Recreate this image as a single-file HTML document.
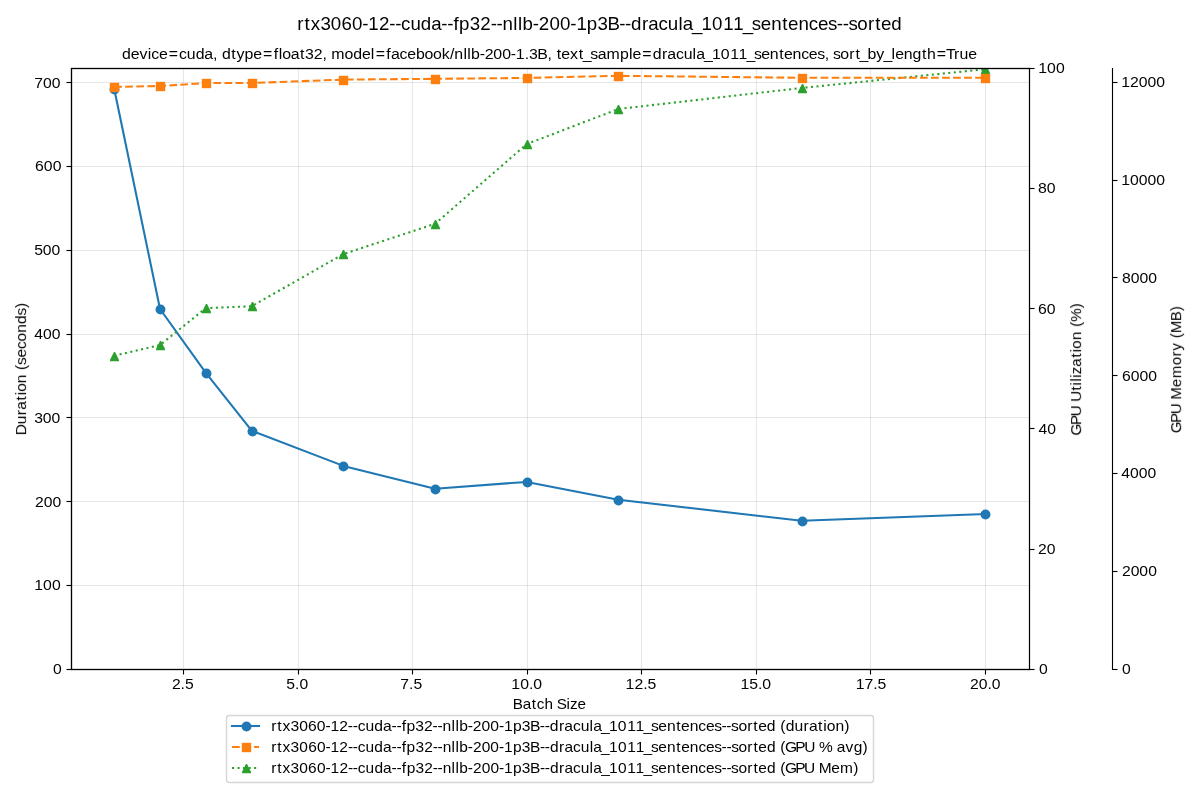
<!DOCTYPE html>
<html lang="en">
<head>
<meta charset="utf-8">
<title>rtx3060-12--cuda--fp32--nllb-200-1p3B--dracula_1011_sentences--sorted</title>
<style>
html,body{margin:0;padding:0;background:#ffffff;}
body{width:1200px;height:800px;overflow:hidden;}
svg{display:block;}
svg text{font-family:"Liberation Sans",sans-serif;fill:#000000;}
</style>
</head>
<body>
<svg width="1200" height="800" viewBox="0 0 1200 800">
<rect x="0" y="0" width="1200" height="800" fill="#ffffff"/>
<defs><clipPath id="axclip"><rect x="71.00" y="68.00" width="958.00" height="601.00"/></clipPath></defs>
<g stroke="#b0b0b0" stroke-opacity="0.3" stroke-width="1.11">
<line x1="183.5" y1="67.75" x2="183.5" y2="668.75"/>
<line x1="298.5" y1="67.75" x2="298.5" y2="668.75"/>
<line x1="412.5" y1="67.75" x2="412.5" y2="668.75"/>
<line x1="527.5" y1="67.75" x2="527.5" y2="668.75"/>
<line x1="641.5" y1="67.75" x2="641.5" y2="668.75"/>
<line x1="756.5" y1="67.75" x2="756.5" y2="668.75"/>
<line x1="870.5" y1="67.75" x2="870.5" y2="668.75"/>
<line x1="985.5" y1="67.75" x2="985.5" y2="668.75"/>
<line x1="70.65" y1="669.5" x2="1028.55" y2="669.5"/>
<line x1="70.65" y1="585.5" x2="1028.55" y2="585.5"/>
<line x1="70.65" y1="501.5" x2="1028.55" y2="501.5"/>
<line x1="70.65" y1="417.5" x2="1028.55" y2="417.5"/>
<line x1="70.65" y1="334.5" x2="1028.55" y2="334.5"/>
<line x1="70.65" y1="250.5" x2="1028.55" y2="250.5"/>
<line x1="70.65" y1="166.5" x2="1028.55" y2="166.5"/>
<line x1="70.65" y1="82.5" x2="1028.55" y2="82.5"/>
</g>
<g clip-path="url(#axclip)">
<polyline fill="none" stroke="#1f77b4" stroke-width="2.083" stroke-linejoin="round" stroke-linecap="square" points="114.19,88.71 160.02,309.00 205.86,372.90 251.69,430.68 343.35,465.90 435.02,488.71 526.68,481.92 618.35,499.69 801.68,520.83 985.01,514.03"/>
<circle cx="114.5" cy="89.5" r="4.95" fill="#1f77b4"/>
<circle cx="160.5" cy="309.5" r="4.95" fill="#1f77b4"/>
<circle cx="206.5" cy="373.5" r="4.95" fill="#1f77b4"/>
<circle cx="252.5" cy="431.5" r="4.95" fill="#1f77b4"/>
<circle cx="343.5" cy="466.5" r="4.95" fill="#1f77b4"/>
<circle cx="435.5" cy="489.5" r="4.95" fill="#1f77b4"/>
<circle cx="527.5" cy="482.5" r="4.95" fill="#1f77b4"/>
<circle cx="618.5" cy="500.5" r="4.95" fill="#1f77b4"/>
<circle cx="802.5" cy="521.5" r="4.95" fill="#1f77b4"/>
<circle cx="985.5" cy="514.5" r="4.95" fill="#1f77b4"/>
</g>
<g clip-path="url(#axclip)">
<polyline fill="none" stroke="#2ca02c" stroke-width="2.083" stroke-dasharray="2.083 3.4375" stroke-linejoin="round" points="114.19,355.78 160.02,345.02 205.86,308.10 251.69,306.29 343.35,254.10 435.02,223.83 526.68,144.10 618.35,108.99 801.68,87.96 985.01,69.27"/>
<polygon points="113.92,352.10 115.08,352.10 118.95,359.84 118.95,361.20 110.05,361.20 110.05,359.84" fill="#2ca02c"/>
<polygon points="159.92,341.10 161.08,341.10 164.95,348.84 164.95,350.20 156.05,350.20 156.05,348.84" fill="#2ca02c"/>
<polygon points="205.92,304.10 207.08,304.10 210.95,311.84 210.95,313.20 202.05,313.20 202.05,311.84" fill="#2ca02c"/>
<polygon points="251.92,302.10 253.08,302.10 256.95,309.84 256.95,311.20 248.05,311.20 248.05,309.84" fill="#2ca02c"/>
<polygon points="342.92,250.10 344.08,250.10 347.95,257.84 347.95,259.20 339.05,259.20 339.05,257.84" fill="#2ca02c"/>
<polygon points="434.92,220.10 436.08,220.10 439.95,227.84 439.95,229.20 431.05,229.20 431.05,227.84" fill="#2ca02c"/>
<polygon points="526.92,140.10 528.08,140.10 531.95,147.84 531.95,149.20 523.05,149.20 523.05,147.84" fill="#2ca02c"/>
<polygon points="617.92,105.10 619.08,105.10 622.95,112.84 622.95,114.20 614.05,114.20 614.05,112.84" fill="#2ca02c"/>
<polygon points="801.92,84.10 803.08,84.10 806.95,91.84 806.95,93.20 798.05,93.20 798.05,91.84" fill="#2ca02c"/>
<polygon points="984.92,65.10 986.08,65.10 989.95,72.84 989.95,74.20 981.05,74.20 981.05,72.84" fill="#2ca02c"/>
</g>
<g clip-path="url(#axclip)">
<polyline fill="none" stroke="#ff7f0e" stroke-width="2.083" stroke-dasharray="7.708 3.333" stroke-linejoin="round" points="114.19,86.87 160.02,86.03 205.86,83.02 251.69,83.02 343.35,79.60 435.02,78.82 526.68,77.92 618.35,75.81 801.68,77.80 985.01,77.80"/>
<rect x="109.82" y="82.82" width="9.36" height="9.36" fill="#ff7f0e"/>
<rect x="155.82" y="81.82" width="9.36" height="9.36" fill="#ff7f0e"/>
<rect x="201.82" y="78.82" width="9.36" height="9.36" fill="#ff7f0e"/>
<rect x="247.82" y="78.82" width="9.36" height="9.36" fill="#ff7f0e"/>
<rect x="338.82" y="75.82" width="9.36" height="9.36" fill="#ff7f0e"/>
<rect x="430.82" y="74.82" width="9.36" height="9.36" fill="#ff7f0e"/>
<rect x="522.82" y="73.82" width="9.36" height="9.36" fill="#ff7f0e"/>
<rect x="613.82" y="71.82" width="9.36" height="9.36" fill="#ff7f0e"/>
<rect x="797.82" y="73.82" width="9.36" height="9.36" fill="#ff7f0e"/>
<rect x="980.82" y="73.82" width="9.36" height="9.36" fill="#ff7f0e"/>
</g>
<g stroke="#000000" stroke-width="1.11" fill="none" stroke-linecap="square">
<path d="M71.5 68.5V669.5 M1029.5 68.5V669.5"/>
<path d="M71.5 68.5V669.5 M1112.5 68.5V669.5"/>
<path d="M71.5 68.5V669.5 M1029.5 68.5V669.5"/>
</g>
<rect x="70.94" y="67.0" width="959.11" height="3" fill="#000000" fill-opacity="0.160"/><rect x="70.94" y="68.0" width="959.11" height="1" fill="#000000"/>
<rect x="70.94" y="668.0" width="959.11" height="3" fill="#000000" fill-opacity="0.160"/><rect x="70.94" y="669.0" width="959.11" height="1" fill="#000000"/>
<g stroke="#000000" stroke-width="1.11" fill="none" stroke-linecap="butt">
<line x1="183.5" y1="669.50" x2="183.5" y2="674.50"/>
<line x1="298.5" y1="669.50" x2="298.5" y2="674.50"/>
<line x1="412.5" y1="669.50" x2="412.5" y2="674.50"/>
<line x1="527.5" y1="669.50" x2="527.5" y2="674.50"/>
<line x1="641.5" y1="669.50" x2="641.5" y2="674.50"/>
<line x1="756.5" y1="669.50" x2="756.5" y2="674.50"/>
<line x1="870.5" y1="669.50" x2="870.5" y2="674.50"/>
<line x1="985.5" y1="669.50" x2="985.5" y2="674.50"/>
</g>
<rect x="66.50" y="668.0" width="5.00" height="3" fill="#000000" fill-opacity="0.055"/><rect x="66.50" y="669.0" width="5.00" height="1" fill="#000000"/>
<rect x="66.50" y="584.0" width="5.00" height="3" fill="#000000" fill-opacity="0.055"/><rect x="66.50" y="585.0" width="5.00" height="1" fill="#000000"/>
<rect x="66.50" y="500.0" width="5.00" height="3" fill="#000000" fill-opacity="0.055"/><rect x="66.50" y="501.0" width="5.00" height="1" fill="#000000"/>
<rect x="66.50" y="416.0" width="5.00" height="3" fill="#000000" fill-opacity="0.055"/><rect x="66.50" y="417.0" width="5.00" height="1" fill="#000000"/>
<rect x="66.50" y="333.0" width="5.00" height="3" fill="#000000" fill-opacity="0.055"/><rect x="66.50" y="334.0" width="5.00" height="1" fill="#000000"/>
<rect x="66.50" y="249.0" width="5.00" height="3" fill="#000000" fill-opacity="0.055"/><rect x="66.50" y="250.0" width="5.00" height="1" fill="#000000"/>
<rect x="66.50" y="165.0" width="5.00" height="3" fill="#000000" fill-opacity="0.055"/><rect x="66.50" y="166.0" width="5.00" height="1" fill="#000000"/>
<rect x="66.50" y="81.0" width="5.00" height="3" fill="#000000" fill-opacity="0.055"/><rect x="66.50" y="82.0" width="5.00" height="1" fill="#000000"/>
<rect x="1029.50" y="668.0" width="5.00" height="3" fill="#000000" fill-opacity="0.055"/><rect x="1029.50" y="669.0" width="5.00" height="1" fill="#000000"/>
<rect x="1029.50" y="548.0" width="5.00" height="3" fill="#000000" fill-opacity="0.055"/><rect x="1029.50" y="549.0" width="5.00" height="1" fill="#000000"/>
<rect x="1029.50" y="427.0" width="5.00" height="3" fill="#000000" fill-opacity="0.055"/><rect x="1029.50" y="428.0" width="5.00" height="1" fill="#000000"/>
<rect x="1029.50" y="307.0" width="5.00" height="3" fill="#000000" fill-opacity="0.055"/><rect x="1029.50" y="308.0" width="5.00" height="1" fill="#000000"/>
<rect x="1029.50" y="187.0" width="5.00" height="3" fill="#000000" fill-opacity="0.055"/><rect x="1029.50" y="188.0" width="5.00" height="1" fill="#000000"/>
<rect x="1029.50" y="67.0" width="5.00" height="3" fill="#000000" fill-opacity="0.055"/><rect x="1029.50" y="68.0" width="5.00" height="1" fill="#000000"/>
<rect x="1112.50" y="668.0" width="5.00" height="3" fill="#000000" fill-opacity="0.055"/><rect x="1112.50" y="669.0" width="5.00" height="1" fill="#000000"/>
<rect x="1112.50" y="570.0" width="5.00" height="3" fill="#000000" fill-opacity="0.055"/><rect x="1112.50" y="571.0" width="5.00" height="1" fill="#000000"/>
<rect x="1112.50" y="472.0" width="5.00" height="3" fill="#000000" fill-opacity="0.055"/><rect x="1112.50" y="473.0" width="5.00" height="1" fill="#000000"/>
<rect x="1112.50" y="374.0" width="5.00" height="3" fill="#000000" fill-opacity="0.055"/><rect x="1112.50" y="375.0" width="5.00" height="1" fill="#000000"/>
<rect x="1112.50" y="276.0" width="5.00" height="3" fill="#000000" fill-opacity="0.055"/><rect x="1112.50" y="277.0" width="5.00" height="1" fill="#000000"/>
<rect x="1112.50" y="179.0" width="5.00" height="3" fill="#000000" fill-opacity="0.055"/><rect x="1112.50" y="180.0" width="5.00" height="1" fill="#000000"/>
<rect x="1112.50" y="81.0" width="5.00" height="3" fill="#000000" fill-opacity="0.055"/><rect x="1112.50" y="82.0" width="5.00" height="1" fill="#000000"/>
<rect x="226.50" y="715.50" width="647.00" height="67.00" rx="2.78" ry="2.78" fill="#ffffff" stroke="#d6d6d6" stroke-width="1.39"/>
<line x1="232.00" y1="726.00" x2="259.00" y2="726.00" stroke="#1f77b4" stroke-width="2.083" stroke-linecap="square"/>
<circle cx="246.50" cy="726.50" r="4.95" fill="#1f77b4"/>
<line x1="232.00" y1="747.00" x2="259.00" y2="747.00" stroke="#ff7f0e" stroke-width="2.083" stroke-dasharray="7.708 3.333"/>
<rect x="241.82" y="742.82" width="9.36" height="9.36" fill="#ff7f0e"/>
<line x1="232.00" y1="768.00" x2="259.00" y2="768.00" stroke="#2ca02c" stroke-width="2.083" stroke-dasharray="2.083 3.4375"/>
<polygon points="245.92,764.10 247.08,764.10 250.95,771.84 250.95,773.20 242.05,773.20 242.05,771.84" fill="#2ca02c"/>
<g opacity="0.999">
<text transform="translate(512.97,709.08) scale(1.0460,1)" font-size="14.60" x="-0.3 9.3 18 22.7 30.1 38.4 41.9 51.1 54.5 61.7">Batch Size</text>
<text transform="translate(171.90,689.48) scale(1.0779,1)" font-size="14.60" x="0 8.1 12.2">2.5</text>
<text transform="translate(286.28,688.78) scale(1.0779,1)" font-size="14.60" x="0 8.1 12.2">5.0</text>
<text transform="translate(400.33,688.73) scale(1.0779,1)" font-size="14.60" x="0 8.1 12.2">7.5</text>
<text transform="translate(511.29,689.34) scale(1.0823,1)" font-size="14.60" x="0 8.2 16.3 20.3">10.0</text>
<text transform="translate(625.60,689.40) scale(1.0823,1)" font-size="14.60" x="0 8.2 16.3 20.3">12.5</text>
<text transform="translate(740.40,689.45) scale(1.0823,1)" font-size="14.60" x="0 8.2 16.3 20.3">15.0</text>
<text transform="translate(855.65,689.47) scale(1.0823,1)" font-size="14.60" x="0 8.2 16.3 20.3">17.5</text>
<text transform="translate(969.96,689.34) scale(1.0779,1)" font-size="14.60" x="0 8.1 16.2 20.3">20.0</text>
<text transform="translate(26.10,435.03) rotate(-90) scale(1.0723,1)" font-size="14.60" x="-0.3 10 18.4 23.5 32.1 36.9 40.2 48.3 56.4 60.6 65.3 72.2 80.1 87.2 95.3 103.5 111.4 118.4">Duration (seconds)</text>
<text transform="translate(52.95,674.26) scale(1.0777,1)" font-size="14.60" x="0">0</text>
<text transform="translate(34.26,590.32) scale(1.0829,1)" font-size="14.60" x="0 8.2 16.3">100</text>
<text transform="translate(34.95,506.54) scale(1.0777,1)" font-size="14.60" x="0 8.1 16.2">200</text>
<text transform="translate(34.13,422.83) scale(1.0777,1)" font-size="14.60" x="0 8.1 16.2">300</text>
<text transform="translate(34.30,338.69) scale(1.0777,1)" font-size="14.60" x="0 8.1 16.2">400</text>
<text transform="translate(34.16,255.36) scale(1.0777,1)" font-size="14.60" x="0 8.1 16.2">500</text>
<text transform="translate(35.00,171.43) scale(1.0829,1)" font-size="14.60" x="0 8.2 16.3">600</text>
<text transform="translate(34.19,87.70) scale(1.0777,1)" font-size="14.60" x="0 8.1 16.2">700</text>
<text transform="translate(121.97,59.47) scale(1.0898,1)" font-size="14.60" x="0 8 16.1 23.7 26.9 33.9 42.9 52.4 59.5 67.6 75.6 83.6 87.6 91.7 100.3 105 112.4 120.4 129.4 139.3 143.8 147 154.9 163.4 167.9 175.9 184 188 192.1 204.2 212.2 220.2 228.3 232.8 242.6 246.8 254.7 261.7 269.7 277.6 285.4 293.5 300.9 305 313.3 316.8 320.2 328.2 332.8 340.8 348.9 356.7 361.4 369.5 373.5 381.1 390.4 394.4 399 403.2 411.2 419.1 422.8 429.7 436.6 444.7 457 465.3 468.5 477.5 487.1 495.5 500.4 508.3 515.4 523.6 526.9 534.1 541.4 549.5 558.1 565.7 573 579.9 586.6 594.5 603.1 607.5 615.4 623.3 630.3 637.9 644.8 648.8 652.5 659.2 667.4 673 676.7 684 692.2 698.8 706.2 709.5 717.4 725.5 734.1 738.6 747.7 756.1 763.5 768.5 776.5">device=cuda, dtype=float32, model=facebook/nllb-200-1.3B, text_sample=dracula_1011_sentences, sort_by_length=True</text>
<text transform="translate(270.93,731.22) scale(1.0744,1)" font-size="14.60" x="0.2 5.9 10.7 18.2 26.3 34.5 42.7 50.7 55.5 63.7 71.6 76.2 80.8 88 96.2 104.3 112.2 116.8 121.8 126.2 134.4 142.5 150.5 155 159.8 168.1 171.7 175.2 183.2 187.9 196.1 204.2 212.2 216.9 225.2 233.4 241.1 250.3 254.9 259.6 268.1 273.1 281.1 288.3 296.6 300 307.3 314.7 322.9 331.6 339.3 346.7 353.7 360.6 368.6 377.3 381.7 389.8 397.8 404.9 412.6 419.4 423.9 428.3 435.1 443.4 449 453.5 461.6 469.8 474 479.1 487.3 495.6 500.7 509.3 514.1 517.4 525.4 533.6">rtx3060-12--cuda--fp32--nllb-200-1p3B--dracula_1011_sentences--sorted (duration)</text>
<text transform="translate(270.97,752.29) scale(1.0619,1)" font-size="14.60" x="0.3 6 10.8 18.4 26.7 35 43.3 51.3 56.1 64.4 72.5 77.1 81.7 89 97.3 105.6 113.6 118.2 123.2 127.7 136 144.3 152.3 156.9 161.7 170.1 173.7 177.3 185.4 190.2 198.4 206.6 214.7 219.5 227.9 236.2 244 253.3 257.9 262.7 271.2 276.4 284.4 291.7 300.1 303.6 310.9 318.4 326.7 335.5 343.4 350.8 357.9 364.8 373 381.7 386.3 394.4 402.5 409.7 417.5 424.3 428.9 433.4 440.3 448.6 454.3 458.9 467.1 475.3 479.6 484 493.8 502.1 512.2 516 528.7 532.8 541.1 548.8 557.1">rtx3060-12--cuda--fp32--nllb-200-1p3B--dracula_1011_sentences--sorted (GPU % avg)</text>
<text transform="translate(270.96,773.39) scale(1.0608,1)" font-size="14.60" x="0.3 6 10.8 18.4 26.7 35 43.3 51.4 56.2 64.5 72.6 77.2 81.8 89.1 97.5 105.7 113.7 118.3 123.3 127.9 136.2 144.4 152.5 157.1 161.9 170.2 173.9 177.5 185.6 190.4 198.6 206.9 214.9 219.8 228.1 236.4 244.3 253.6 258.2 263 271.5 276.7 284.7 292.1 300.4 303.9 311.3 318.7 327.1 335.9 343.7 351.2 358.3 365.2 373.4 382.1 386.7 394.8 402.9 410.1 417.9 424.8 429.4 433.8 440.8 449.1 454.8 459.4 467.6 475.8 480.1 484.5 494.3 502.6 512.7 516.4 528.1 536.4 549">rtx3060-12--cuda--fp32--nllb-200-1p3B--dracula_1011_sentences--sorted (GPU Mem)</text>
<text transform="translate(1181.15,432.83) rotate(-90) scale(1.0234,1)" font-size="14.60" x="-0.4 9.7 18.4 28.7 32.6 44.7 53.4 66.2 74.8 80.4 88.2 92.6 97.5 109.3 119">GPU Memory (MB)</text>
<text transform="translate(1121.96,674.26) scale(1.0777,1)" font-size="14.60" x="0">0</text>
<text transform="translate(1121.92,576.35) scale(1.0777,1)" font-size="14.60" x="0 8.1 16.2 24.4">2000</text>
<text transform="translate(1121.19,478.48) scale(1.0777,1)" font-size="14.60" x="0 8.1 16.2 24.4">4000</text>
<text transform="translate(1121.97,380.78) scale(1.0816,1)" font-size="14.60" x="0 8.2 16.3 24.4">6000</text>
<text transform="translate(1121.96,282.96) scale(1.0816,1)" font-size="14.60" x="0 8.2 16.3 24.4">8000</text>
<text transform="translate(1121.25,185.07) scale(1.0808,1)" font-size="14.60" x="0 8.2 16.3 24.4 32.5">10000</text>
<text transform="translate(1121.17,87.22) scale(1.0808,1)" font-size="14.60" x="0 8.2 16.3 24.4 32.5">12000</text>
<text transform="translate(1081.12,435.09) rotate(-90) scale(1.0488,1)" font-size="14.60" x="-0.6 9.4 17.8 27.9 31.6 42.3 47.2 50.9 54.6 57.9 65.1 73.9 78.8 82.2 90.5 98.7 103.1 107.9 120.8">GPU Utilization (%)</text>
<text transform="translate(1039.05,674.26) scale(1.0777,1)" font-size="14.60" x="0">0</text>
<text transform="translate(1037.95,553.90) scale(1.0777,1)" font-size="14.60" x="0 8.1">20</text>
<text transform="translate(1038.48,433.67) scale(1.0777,1)" font-size="14.60" x="0 8.1">40</text>
<text transform="translate(1038.09,313.60) scale(1.0854,1)" font-size="14.60" x="0 8.1">60</text>
<text transform="translate(1038.07,193.43) scale(1.0854,1)" font-size="14.60" x="0 8.1">80</text>
<text transform="translate(1038.25,73.12) scale(1.0829,1)" font-size="14.60" x="0 8.2 16.3">100</text>
<text transform="translate(296.98,29.92) scale(1.0689,1)" font-size="17.50" x="0.3 7 12.8 21.9 31.7 41.6 51.4 61 66.8 76.7 86.4 91.9 97.4 106.1 115.9 125.6 135 140.5 146.5 151.7 161.6 171.5 181.2 186.7 192.4 202.4 206.7 210.9 220.5 226.3 236.2 246 255.6 261.4 271.2 281.1 290.4 301.4 306.9 312.6 322.7 328.7 338.2 346.9 356.9 360.9 369.5 378.4 388.3 398.8 408.1 417 425.5 433.9 443.6 454 459.4 469.1 478.8 487.4 496.7 505 510.5 515.9 524.2 534.2 540.9 546.3 556">rtx3060-12--cuda--fp32--nllb-200-1p3B--dracula_1011_sentences--sorted</text>
</g>
</svg>
</body>
</html>
